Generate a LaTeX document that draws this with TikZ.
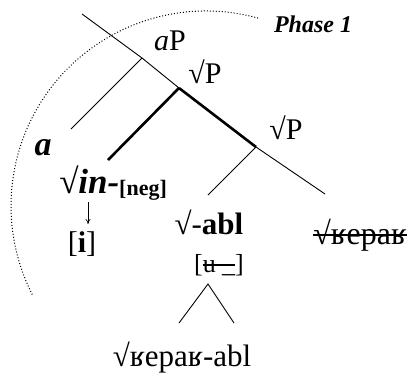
\documentclass[tikz,border=0pt]{standalone}
\usepackage{fontspec}
\setmainfont{Liberation Serif}
\usepackage{tikz}
\usetikzlibrary{arrows.meta}

\newcommand\strk[1]{\setbox0\hbox{#1}\rlap{\rule[0.24em]{\wd0}{0.06em}}\box0}

\begin{document}
\begin{tikzpicture}[x=1pt, y=-1pt, inner sep=0pt,
  branch/.style={line width=0.9pt},
  heavy/.style={line width=2.6pt},
  lbl/.style={anchor=base, font=\fontsize{30}{32}\selectfont},
  small/.style={anchor=base, font=\fontsize{26}{28}\selectfont}]
\useasboundingbox (0,0) rectangle (409,373);
% Tree points
\coordinate (top) at (82,14);
\coordinate (aP) at (142,58);
\coordinate (rP) at (179,88);
\coordinate (rPP) at (256,147);
\coordinate (bot) at (325,194);
\coordinate (aleaf) at (71,129);
\coordinate (inleaf) at (108,160);
\coordinate (ableaf) at (208,195);

% Labels
\node[small, font=\fontsize{24}{26}\selectfont\bfseries\itshape] (phase) at (313,32) {Phase 1};
\node[lbl] (aPl) at (170,50) {\textit{a}P};
\node[lbl] (rPl) at (205,83) {√P};
\node[lbl] (rPPl) at (286,139) {√P};
\node[lbl, font=\fontsize{34}{36}\selectfont\bfseries\itshape] (al) at (43,155) {a};
\node[lbl, font=\fontsize{35}{38}\selectfont\bfseries\itshape] (inl) at (113,193) {√in-\raisebox{-2pt}{\fontsize{22}{24}\selectfont\upshape[neg]}};
\node[lbl] (il) at (82,252) {[\textbf{i}]};
\node[lbl, font=\fontsize{31}{34}\selectfont] (abl) at (209,234) {√-\textbf{abl}};
\node[small] (ul) at (219,272) {[\strk{u \_}]};
\node[lbl, font=\fontsize{32}{34}\selectfont] (kepl) at (360,244) {\strk{√ʁepaʁ}};
\node[lbl, font=\fontsize{31}{34}\selectfont] (outl) at (182,366) {√ʁepaʁ-abl};

% Branches
\draw[branch] (top) -- (aP) -- (rP) (rPP) -- (bot);
\draw[heavy] (rP) -- (rPP);
\draw[branch] (aP) -- (aleaf);
\draw[heavy] (rP) -- (inleaf);
\draw[branch] (rPP) -- (ableaf);

% Arrow and triangle
\coordinate (arrtop) at (88,202);
\coordinate (arrend) at (88,224);
\draw[line width=0.7pt, -{To[length=5pt,width=5pt]}] (arrtop) -- (arrend);
\coordinate (tri) at (208,284);
\coordinate (trileft) at (179,323);
\coordinate (triright) at (234,323);
\draw[branch] (trileft) -- (tri) -- (triright);

% Phase boundary
\draw[line width=1pt, dash pattern=on 1pt off 2pt] (206,206) ++(-74.5:195) arc[start angle=-74.5, end angle=-207.2, radius=195];
\end{tikzpicture}
\end{document}
